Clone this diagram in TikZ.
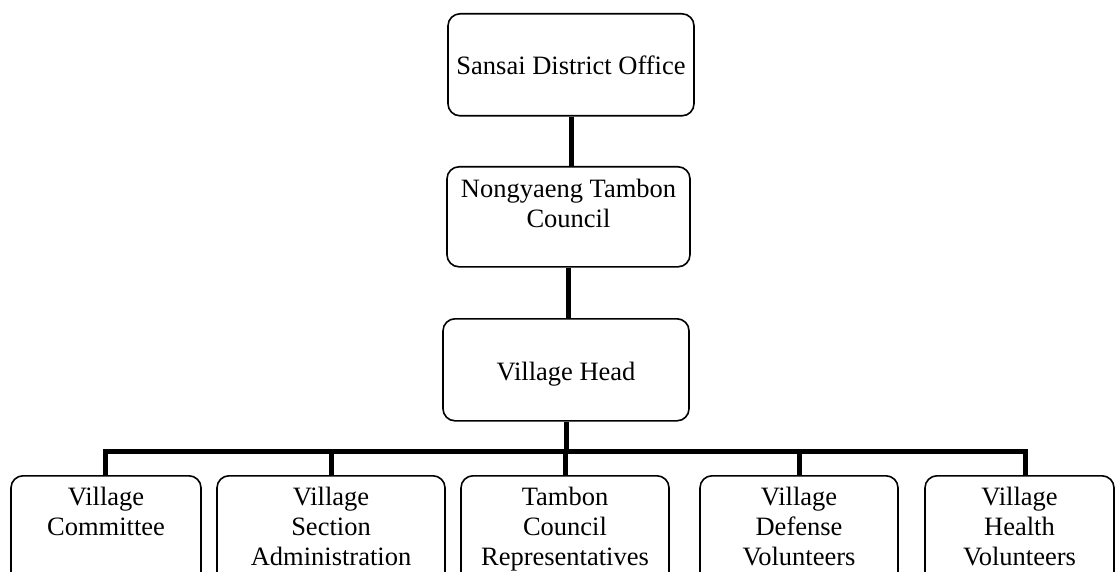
\documentclass[tikz,border=0pt]{standalone}
\usepackage{fontspec}
\setmainfont{Liberation Serif}
\newcommand{\orgtext}[4]{\parbox[c][#2][t]{#1}{\centering\rule{0pt}{#3}#4}}
\tikzset{
  orgbox/.style={draw, line width=1.6pt, rounded corners=12pt, inner sep=0pt,
    anchor=north, font=\fontsize{26.5}{30}\selectfont},
  conn/.style={line width=5pt},
}
\begin{document}
\begin{tikzpicture}[x=1pt,y=-1pt]
\clip (0,0) rectangle (1116,572);
\fill[white] (0,0) rectangle (1116,572);
% upper chain
\node[orgbox] (dist) at (571,13) {\orgtext{246pt}{102pt}{61pt}{Sansai District Office}};
\node[orgbox] (tc) at (568.5,166) {\orgtext{243pt}{100pt}{31pt}{Nongyaeng Tambon\\Council}};
\node[orgbox] (vh) at (566,318) {\orgtext{246pt}{102pt}{62pt}{Village Head}};
% bottom row
\node[orgbox] (b1) at (106,475) {\orgtext{190pt}{130pt}{30pt}{Village\\Committee}};
\node[orgbox] (b2) at (331,475) {\orgtext{228pt}{130pt}{30pt}{Village\\Section\\Administration}};
\node[orgbox] (b3) at (565,475) {\orgtext{208pt}{130pt}{30pt}{Tambon\\Council\\Representatives}};
\node[orgbox] (b4) at (799,475) {\orgtext{198pt}{130pt}{30pt}{Village\\Defense\\Volunteers}};
\node[orgbox] (b5) at (1019.5,475) {\orgtext{189pt}{130pt}{30pt}{Village\\Health\\Volunteers}};
% connectors
\coordinate (barL) at (105,451);
\coordinate (barR) at (1025,451);
\draw[conn] (dist.south) -- (dist.south |- tc.north);
\draw[conn] (tc.south) -- (tc.south |- vh.north);
\draw[conn] (vh.south) -- (vh.south |- barL);
\draw[conn] (b1.north -| barL) -- (barL) -- (barR) -- (barR |- b5.north);
\draw[conn] (b2.north) -- (b2.north |- barL);
\draw[conn] (b3.north) -- (b3.north |- barL);
\draw[conn] (b4.north) -- (b4.north |- barL);
\end{tikzpicture}
\end{document}
